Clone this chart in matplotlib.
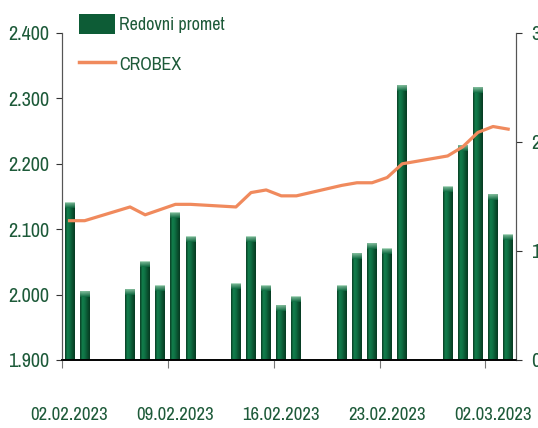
import datetime as dt

import matplotlib
matplotlib.use("Agg")
import matplotlib.dates as mdates
import matplotlib.pyplot as plt
import numpy as np
from matplotlib.colors import LinearSegmentedColormap
from matplotlib.lines import Line2D
from matplotlib.patches import Patch
from matplotlib.ticker import FuncFormatter, FixedLocator

plt.rcParams["font.family"] = ["Arial Narrow", "Liberation Sans Narrow", "Archivo Narrow",
                               "PT Sans Narrow", "Roboto Condensed", "DejaVu Sans"]

# trading days (Feb 2 - Mar 3, 2023)
days = ["2023-02-02", "2023-02-03", "2023-02-06", "2023-02-07", "2023-02-08",
        "2023-02-09", "2023-02-10", "2023-02-13", "2023-02-14", "2023-02-15",
        "2023-02-16", "2023-02-17", "2023-02-20", "2023-02-21", "2023-02-22",
        "2023-02-23", "2023-02-24", "2023-02-27", "2023-02-28", "2023-03-01",
        "2023-03-02", "2023-03-03"]
turnover = [1.44, 0.63, 0.65, 0.90, 0.68, 1.35, 1.13, 0.70, 1.13, 0.68, 0.50,
            0.58, 0.68, 0.98, 1.07, 1.02, 2.52, 1.59, 1.97, 2.50, 1.52, 1.15]
crobex = [2113, 2113, 2134, 2122, 2130, 2138, 2138, 2134, 2156, 2160, 2151,
          2151, 2167, 2171, 2171, 2179, 2200, 2212, 2226, 2248, 2257, 2253]
tick_days = ["2023-02-02", "2023-02-09", "2023-02-16", "2023-02-23", "2023-03-02"]

TXT = "#1d5a39"
LINE = "#f08a5d"

d = [mdates.date2num(dt.date.fromisoformat(s)) + 0.5 for s in days]
ticks = [mdates.date2num(dt.date.fromisoformat(s)) for s in tick_days]

fig = plt.figure(figsize=(5.38, 4.28), dpi=100)
ax1 = fig.add_axes([0.1152, 0.1589, 0.8434, 0.764])
ax2 = ax1.twinx()

# bars with horizontal gradient
grad = LinearSegmentedColormap.from_list(
    "g", ["#0a3d24", "#12804d", "#0f6e42", "#0a5230", "#073a22"])
cap = LinearSegmentedColormap.from_list("c", ["#0e6a40", "#9fd3b5"])
bars = ax2.bar(d, turnover, width=0.66, color="none", zorder=1)
hgrad = np.linspace(0, 1, 64).reshape(1, -1)
for b in bars:
    x0, w, h = b.get_x(), b.get_width(), b.get_height()
    im = ax2.imshow(hgrad, extent=[x0, x0 + w, 0, h], aspect="auto",
                    cmap=grad, origin="lower", zorder=1)
    im.set_clip_path(b)
    vc = np.linspace(0, 1, 16).reshape(-1, 1)
    ax2.imshow(vc, extent=[x0, x0 + w, h - 0.05, h], aspect="auto",
               cmap=cap, origin="lower", alpha=0.8, zorder=1.1)

ax1.plot(d, crobex, color=LINE, lw=2.3, zorder=3, solid_joinstyle="round")

ax1.set_zorder(ax2.get_zorder() + 1)
ax1.patch.set_visible(False)

start = mdates.date2num(dt.date(2023, 2, 2))
ax1.set_xlim(start, start + 30)
ax1.set_ylim(1900, 2400)
ax2.set_ylim(0, 3)

ax1.yaxis.set_major_locator(FixedLocator(np.arange(1900, 2401, 100)))
ax1.yaxis.set_major_formatter(FuncFormatter(lambda v, p: f"{v:,.0f}".replace(",", ".")))
ax2.set_yticks([0, 1, 2, 3])

ax1.xaxis.set_major_locator(FixedLocator(ticks))
ax1.xaxis.set_minor_locator(FixedLocator([t + 0.5 for t in ticks]))
ax1.xaxis.set_major_formatter(FuncFormatter(lambda v, p: ""))
ax1.xaxis.set_minor_formatter(mdates.DateFormatter("%d.%m.%Y"))
ax1.tick_params(axis="x", which="major", length=6, color="#777777", direction="out")
ax1.tick_params(axis="x", which="minor", length=0, pad=34, labelsize=13.5, labelcolor=TXT)
ax1.tick_params(axis="y", length=4, pad=5, labelsize=14.5, labelcolor=TXT, color="#333333")
ax2.tick_params(axis="y", length=4, pad=7, labelsize=15, labelcolor=TXT, color="#333333")

for ax in (ax1, ax2):
    ax.spines["top"].set_visible(False)
    ax.spines["left"].set_color("#555555")
    ax.spines["right"].set_color("#555555")
    ax.spines["bottom"].set_color("#000000")
    ax.spines["bottom"].set_linewidth(1.2)

handles = [Patch(facecolor="#0d5c36", edgecolor="none", label="Redovni promet"),
           Line2D([], [], color=LINE, lw=2.5, label="CROBEX")]
leg = fig.legend(handles=handles, loc="upper left", bbox_to_anchor=(0.134, 0.985),
                 frameon=False, fontsize=13, handlelength=2.0, handleheight=1.4,
                 handletextpad=0.2, labelspacing=1.05, borderaxespad=0)
for t in leg.get_texts():
    t.set_color(TXT)

fig.savefig("out.png", dpi=100)
